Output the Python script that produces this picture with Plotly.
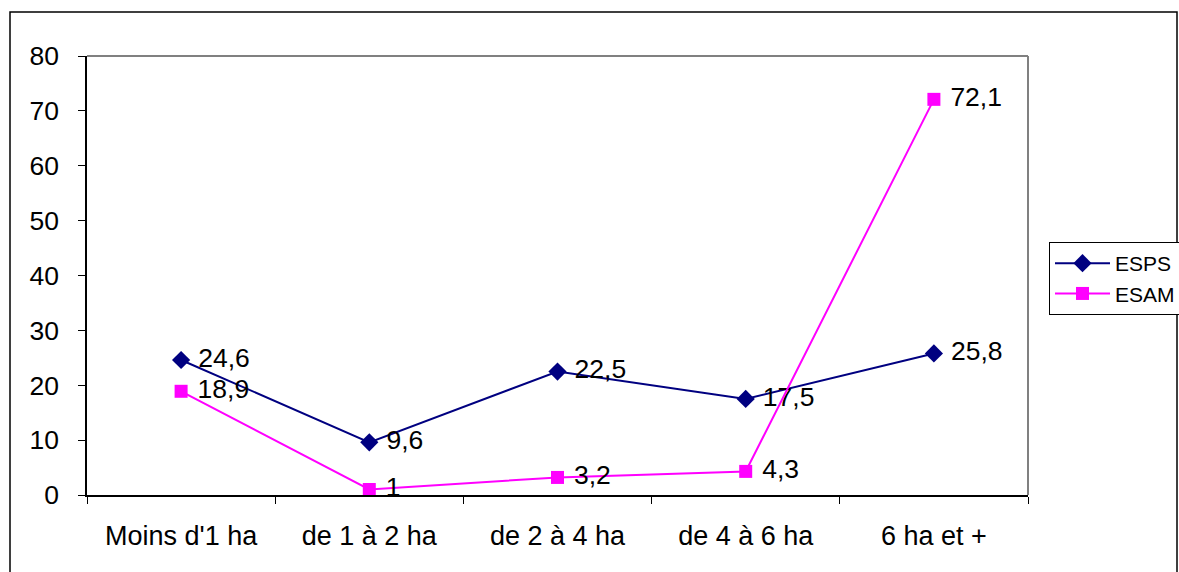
import plotly.graph_objects as go

categories = ["Moins d'1 ha", "de 1 à 2 ha", "de 2 à 4 ha", "de 4 à 6 ha", "6 ha et +"]
esps = [24.6, 9.6, 22.5, 17.5, 25.8]
esam = [18.9, 1, 3.2, 4.3, 72.1]

def fmt(v):
    return "\u00a0" + ("%g" % v).replace(".", ",")

W, H = 1179, 572
L, R, T, B = 87, 1028, 56, 495
FONT = "Liberation Sans, Arial"

fig = go.Figure()
fig.add_trace(go.Scatter(
    x=categories, y=esps, name="ESPS", mode="lines+markers+text",
    line=dict(color="#000080", width=2),
    marker=dict(symbol="diamond", size=14, color="#000080"),
    text=[fmt(v) for v in esps], textposition="middle right",
    textfont=dict(family=FONT, size=26.5, color="black"),
    cliponaxis=False,
))
fig.add_trace(go.Scatter(
    x=categories, y=esam, name="ESAM", mode="lines+markers+text",
    line=dict(color="#FF00FF", width=2),
    marker=dict(symbol="square", size=13, color="#FF00FF"),
    text=[fmt(v) for v in esam], textposition="middle right",
    textfont=dict(family=FONT, size=26.5, color="black"),
    cliponaxis=False,
))

def px2x(px):
    return (px - L) / (R - L)

def px2y(py):
    return (B - py) / (B - T)

fig.update_layout(
    width=W, height=H, autosize=False,
    margin=dict(l=L, r=W - R, t=T, b=H - B, pad=0, autoexpand=False),
    paper_bgcolor="white", plot_bgcolor="white",
    font=dict(family=FONT, size=26.5, color="black"),
    showlegend=True,
    legend=dict(
        xref="container", yref="container",
        x=1049 / W, y=1 - 242 / H, xanchor="left", yanchor="top",
        bordercolor="black", borderwidth=1, bgcolor="white",
        font=dict(size=21), tracegroupgap=0, itemwidth=55,
    ),
    xaxis=dict(
        type="category", range=[-0.5, 4.5], showgrid=False,
        showline=True, linecolor="black", linewidth=1.5,
        ticks="outside", tickson="boundaries", ticklen=7, tickcolor="black",
        tickfont=dict(size=27), zeroline=False, ticklabelstandoff=16,
    ),
    yaxis=dict(
        range=[0, 80], dtick=10, showgrid=False,
        showline=True, linecolor="black", linewidth=1.5,
        ticks="outside", ticklen=7, tickcolor="black",
        tickfont=dict(size=26.5), zeroline=False, ticklabelstandoff=14,
    ),
    shapes=[
        dict(type="line", xref="paper", yref="paper", x0=0, x1=1, y0=1, y1=1,
             line=dict(color="#808080", width=2)),
        dict(type="line", xref="paper", yref="paper", x0=1, x1=1, y0=0, y1=1,
             line=dict(color="#808080", width=2)),
        dict(type="rect", xref="paper", yref="paper",
             x0=px2x(10), x1=px2x(1177), y0=px2y(590), y1=px2y(12),
             line=dict(color="black", width=1.5)),
    ],
)

fig.write_html(
    "out.html",
    config={"displayModeBar": False, "responsive": False},
    default_width="1179px", default_height="572px",
    post_script="document.body.style.margin='0';document.body.style.padding='0';document.body.style.overflow='hidden';",
)
